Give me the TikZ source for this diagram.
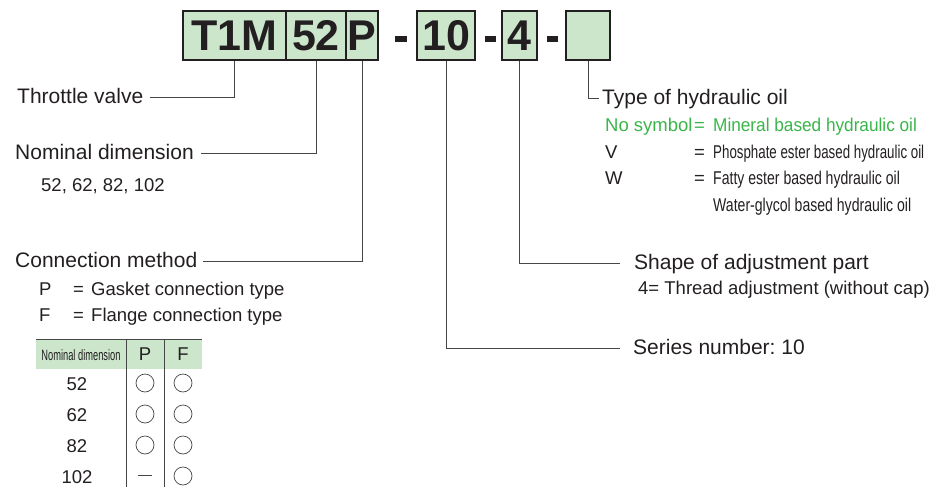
\documentclass[tikz,border=0pt]{standalone}
\usepackage{fontspec}
\setmainfont{Liberation Sans}
\usepackage{graphicx}
\frenchspacing
\definecolor{boxg}{RGB}{204,230,204}
\definecolor{txt}{RGB}{35,31,32}
\definecolor{grn}{RGB}{57,181,74}
\definecolor{ln}{RGB}{70,70,70}
\begin{document}
\begin{tikzpicture}[x=1pt,y=-1pt,
  code/.style={draw=txt, line width=1.2pt, fill=boxg, minimum height=49pt, inner sep=0pt,
    font=\fontsize{43}{43}\selectfont\bfseries, text=txt},
  lab/.style={anchor=west, inner sep=0pt, text height=15pt, text depth=3pt,
    font=\fontsize{21}{24}\selectfont, text=txt},
  sub/.style={anchor=west, inner sep=0pt, text height=13pt, text depth=3pt,
    font=\fontsize{18.5}{22}\selectfont, text=txt},
  cell/.style={sub, anchor=center},
  conn/.style={draw=ln, line width=0.9pt},
  tline/.style={draw=ln, line width=0.9pt},
  circ/.style={circle, draw=ln, line width=0.7pt, minimum size=18pt, inner sep=0pt},
  hyph/.style={fill=txt}
]
\useasboundingbox (0,0) rectangle (944,487);

% code boxes
\node[code, minimum width=103pt] (b1) at (234.5,35.5) {T1M};
\node[code, minimum width=60pt]  (b2) at (316,35.5) {52};
\node[code, minimum width=32pt]  (b3) at (362,35.5) {P};
\node[code, minimum width=58pt]  (b4) at (446,35.5) {10};
\node[code, minimum width=35pt]  (b5) at (519.5,35.5) {4};
\node[code, minimum width=44pt]  (b6) at (588,35.5) {};
\fill[hyph] (395,36) rectangle (407,42);
\fill[hyph] (485,36) rectangle (496,42);
\fill[hyph] (547,36) rectangle (558,42);

% labels
\node[lab] (tv) at (17,97) {Throttle valve};
\node[lab] (nd) at (15,153) {Nominal dimension};
\node[sub] (ndv) at (41,186) {52, 62, 82, 102};
\node[lab] (cm) at (15,261) {Connection method};
\node[sub] (cmp) at (39,290) {P};
\node[sub] (cmpe) at (73,290) {=};
\node[sub] (cmpt) at (91,290) {Gasket connection type};
\node[sub] (cmf) at (39,316) {F};
\node[sub] (cmfe) at (73,316) {=};
\node[sub] (cmft) at (91,316) {Flange connection type};

\node[lab] (ho) at (602,98) {Type of hydraulic oil};
\node[sub, text=grn] (ns) at (605,126) {No symbol};
\node[sub, text=grn] (nse) at (694,126) {=};
\node[sub, text=grn] (nst) at (713,126) {\scalebox{0.93}[1]{Mineral based hydraulic oil}};
\node[sub] (v) at (605,153) {V};
\node[sub] (ve) at (694,153) {=};
\node[sub] (vt) at (713,153) {\scalebox{0.72}[1]{Phosphate ester based hydraulic oil}};
\node[sub] (w) at (605,179) {W};
\node[sub] (we) at (694,179) {=};
\node[sub] (wt) at (713,179) {\scalebox{0.76}[1]{Fatty ester based hydraulic oil}};
\node[sub] (wg) at (713,206) {\scalebox{0.76}[1]{Water-glycol based hydraulic oil}};

\node[lab] (sa) at (634,263) {Shape of adjustment part};
\node[sub] (sat) at (638,289) {4= Thread adjustment (without cap)};
\node[lab] (sn) at (633,348) {Series number: 10};

% connectors
\draw[conn] (b1.south) |- ([xshift=7pt]tv.east);
\draw[conn] (b2.south) |- ([xshift=7pt]nd.east);
\draw[conn] (b3.south) |- ([xshift=5pt]cm.east);
\draw[conn] (b4.south) |- ([xshift=-13pt]sn.west);
\draw[conn] (b5.south) |- ([xshift=-14pt]sa.west);
\draw[conn] (b6.south) |- ([xshift=-3pt]ho.west);

% table
\fill[boxg] (36,339) rectangle (202,369);
\draw[tline] (36,339) -- (202,339);
\draw[tline] (126,339) -- (126,487);
\draw[tline] (164,339) -- (164,487);
\node[cell] (thd) at (81,355) {\scalebox{0.62}[1]{\fontsize{15}{15}\selectfont Nominal dimension}};
\node[cell] (thp) at (145,355) {P};
\node[cell] (thf) at (183,355) {F};
\node[cell] (r1) at (77,385) {52};
\node[cell] (r2) at (77,416) {62};
\node[cell] (r3) at (77,447) {82};
\node[cell] (r4) at (77,478) {102};
\node[circ] (c1p) at (145,383) {};
\node[circ] (c1f) at (183,383) {};
\node[circ] (c2p) at (145,414) {};
\node[circ] (c2f) at (183,414) {};
\node[circ] (c3p) at (145,445) {};
\node[circ] (c3f) at (183,445) {};
\draw[ln, line width=1pt] (138,475) -- (152,475);
\node[circ] (c4f) at (183,476) {};
\end{tikzpicture}
\end{document}
